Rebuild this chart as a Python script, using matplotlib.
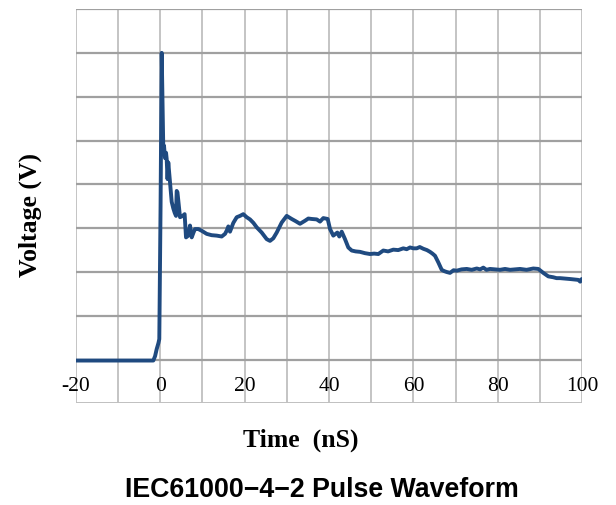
import matplotlib
matplotlib.use("Agg")
import matplotlib.pyplot as plt

# time axis (ns) and voltage (in grid units, 0..8)
time_ns = [
    -20, -17, -14, -11, -8, -5, -3, -1.62, -1.2, -0.82, -0.4, -0.2,
    0.1, 0.37, 0.55, 0.75, 0.92, 1.15, 1.4, 1.55, 1.75, 1.93, 2.34, 2.74,
    3.12, 3.45, 3.76, 3.92, 4.1, 4.71, 5.35, 5.8, 6.13, 6.67, 7.07, 7.48,
    7.9, 8.26, 9.04, 9.85, 11.03, 12.2, 13.4, 14.58, 15.37, 15.8, 16.15,
    16.55, 17.33, 18.14, 18.92, 19.7, 20.5, 21.29, 22.1, 22.87, 24.06,
    25.24, 26.02, 26.81, 27.61, 28.8, 29.98, 31.16, 32.1, 33.13, 34.32,
    35.1, 35.9, 37.09, 37.87, 38.65, 39.69, 40.24, 41.02, 41.97, 42.44,
    43.01, 43.79, 44.57, 45.38, 46.3, 47.34, 48.5, 49.71, 50.7, 51.68,
    52.86, 54.0, 55.23, 56.4, 57.6, 58.4, 59.19, 60.0, 60.77, 61.5, 62.34,
    63.2, 63.92, 64.5, 65.11, 65.89, 66.7, 67.3, 67.88, 68.66, 69.5,
    70.25, 71.4, 72.62, 73.8, 74.99, 75.8, 76.55, 77.3, 78.14, 79.3,
    80.51, 81.7, 82.88, 84.0, 85.25, 86.8, 88.39, 89.58, 90.76, 91.95,
    93.13, 93.9, 94.72, 96.0, 97.09, 98.0, 99.05, 99.5, 99.86,
]
voltage = [
    -0.02, -0.02, -0.02, -0.02, -0.02, -0.02, -0.02, -0.02, 0.08, 0.24, 0.38, 0.47,
    3.5, 7.0, 5.9, 4.8, 4.88, 4.6, 4.72, 4.58, 4.12, 4.5, 4.05, 3.6,
    3.45, 3.35, 3.28, 3.85, 3.82, 3.25, 3.28, 3.32, 2.79, 2.83, 3.06, 2.79,
    2.9, 2.98, 2.98, 2.94, 2.87, 2.84, 2.83, 2.81, 2.87, 2.95, 3.04,
    2.92, 3.12, 3.25, 3.28, 3.32, 3.25, 3.2, 3.12, 3.02, 2.9,
    2.75, 2.71, 2.77, 2.9, 3.13, 3.28, 3.21, 3.16, 3.1, 3.17,
    3.22, 3.21, 3.2, 3.15, 3.23, 3.21, 2.98, 2.83, 2.9, 2.81,
    2.92, 2.75, 2.56, 2.49, 2.47, 2.46, 2.43, 2.41, 2.42, 2.41,
    2.49, 2.47, 2.51, 2.5, 2.54, 2.52, 2.56, 2.54, 2.54, 2.57, 2.53,
    2.5, 2.46, 2.42, 2.37, 2.22, 2.05, 2.02, 2.0, 1.98, 2.04,
    2.03, 2.06, 2.07, 2.05, 2.08, 2.06, 2.1, 2.05, 2.07, 2.06,
    2.05, 2.07, 2.05, 2.06, 2.07, 2.05, 2.08, 2.07, 1.98, 1.9,
    1.88, 1.86, 1.86, 1.85, 1.84, 1.83, 1.82, 1.78, 1.84,
]

x_ticks = [-20, 0, 20, 40, 60, 80, 100]
x_grid = list(range(-20, 101, 10))
y_grid = list(range(0, 9))

LINE_COLOR = "#1f4a80"

fig = plt.figure(figsize=(6.16, 5.06), dpi=100)
ax = fig.add_axes([0.1229, 0.2006, 0.8224, 0.7796])
ax.set_xlim(-20, 100)
ax.set_ylim(-1, 8)
ax.axis("off")

for x in x_grid:
    ax.axvline(x, color="#c4c4c4", lw=1.4, zorder=1)
for y in y_grid:
    ax.axhline(y, color="#a0a0a0", lw=1.6, zorder=1)
ax.axhline(-1, color="#c0c0c0", lw=1.4, zorder=1)

ax.plot(time_ns, voltage, color=LINE_COLOR, lw=2.8, zorder=3,
        solid_joinstyle="round", solid_capstyle="round")

for x in x_ticks:
    ax.text(x, -0.6, str(x), ha="center", va="center",
            family="Liberation Serif", fontsize=15.5, zorder=4)

fig.text(0.488, 0.130, "Time  (nS)", ha="center", va="center",
         family="Liberation Serif", fontweight="bold", fontsize=18.5)
fig.text(0.0487, 0.575, "Voltage (V)", ha="center", va="center", rotation=90,
         family="Liberation Serif", fontweight="bold", fontsize=18.5)
fig.text(0.522, 0.031, "IEC61000\u22124\u22122 Pulse Waveform", ha="center",
         va="center", family="Liberation Sans", fontweight="bold", fontsize=19.3)

fig.savefig("out.png", dpi=100)
